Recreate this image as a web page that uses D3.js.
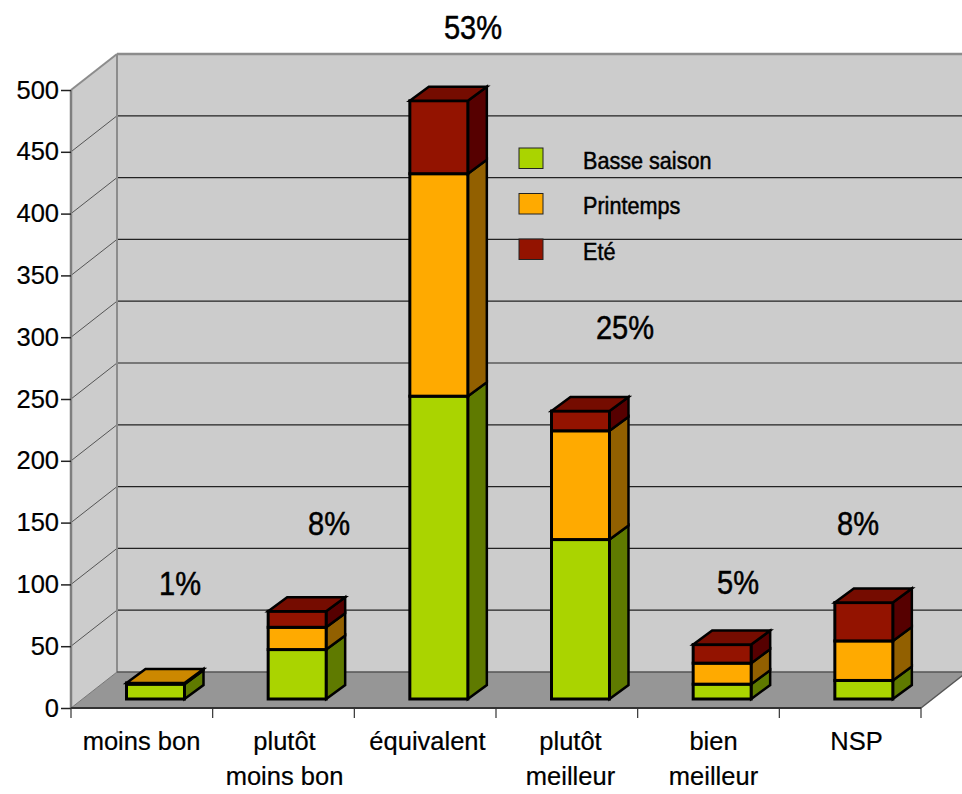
<!DOCTYPE html>
<html>
<head>
<meta charset="utf-8">
<script src="https://cdnjs.cloudflare.com/ajax/libs/d3/7.8.5/d3.min.js"></script>
<style>
  html, body { margin: 0; padding: 0; background: #fff; }
  svg { display: block; }
  text { font-family: "Liberation Sans", Arial, sans-serif; fill: #000; }
  .pct, .legend text { stroke: #000; stroke-width: 0.5px; }
  .x-label, .tick text { stroke: #000; stroke-width: 0.2px; }
</style>
</head>
<body>
<script>
// Data
const categories = ["moins bon", "plutôt|moins bon", "équivalent", "plutôt|meilleur", "bien|meilleur", "NSP"];
const basseSaison = [12, 40, 245, 129, 12, 15];
const printemps = [1, 18, 180, 88, 17, 32];
const ete = [0, 13, 59, 16, 15, 31];
const percents = ["1%", "8%", "53%", "25%", "5%", "8%"];
const seriesNames = ["Basse saison", "Printemps", "Eté"];
const yTicks = [0, 50, 100, 150, 200, 250, 300, 350, 400, 450, 500];

const colors = ["#aad400", "#ffaa00", "#931300"];
const sideColors = ["#5f7a00", "#926000", "#560000"];
const topColors = ["#7f9f00", "#cc8800", "#750c00"];

const width = 962;
const height = 794;

// Plot frame: front of the floor, and how far the back wall is pushed away
const depth = { x: 46, y: -36 };
const barDepth = { x: 19, y: -14 };
const barShift = { x: 0, y: -9 };
const barWidth = 58;
const barOffset = 55.5;

const xScale = d3.scaleBand().domain(categories).range([71, 921]);
const xLabelScale = d3.scaleBand().domain(categories).range([70, 928]);
const yScale = d3.scaleLinear().domain([0, 500]).range([708, 90]);

const rows = categories.map((c, i) => ({
    category: c,
    0: basseSaison[i],
    1: printemps[i],
    2: ete[i]
}));
const stacked = d3.stack().keys([0, 1, 2])(rows);

const svg = d3.select("body")
    .append("svg")
    .attr("width", width)
    .attr("height", height);

const x0 = xScale.range()[0];
const x1 = xScale.range()[1];
const y0 = yScale(0);
const yTop = yScale(500);

const poly = pts => pts.map(p => p.join(",")).join(" ");

// Back wall, side wall, floor
svg.append("polygon")
    .attr("points", poly([[x0 + depth.x, yTop + depth.y], [width + 2, yTop + depth.y], [width + 2, y0 + depth.y], [x0 + depth.x, y0 + depth.y]]))
    .attr("fill", "#cccccc");
svg.append("polygon")
    .attr("points", poly([[x0, yTop], [x0 + depth.x, yTop + depth.y], [x0 + depth.x, y0 + depth.y], [x0, y0]]))
    .attr("fill", "#cccccc");
svg.append("polygon")
    .attr("points", poly([[x0, y0], [x0 + depth.x, y0 + depth.y], [x1 + depth.x, y0 + depth.y], [x1, y0]]))
    .attr("fill", "#969696");

// Gridlines on the walls
const gridTicks = yTicks.filter(d => d > 0 && d < 500);
svg.selectAll(".grid-back")
    .data(gridTicks)
    .enter()
    .append("line")
    .attr("class", "grid-back")
    .attr("x1", x0 + depth.x)
    .attr("x2", width)
    .attr("y1", d => yScale(d) + depth.y)
    .attr("y2", d => yScale(d) + depth.y)
    .attr("stroke", "#222")
    .attr("stroke-width", 1.2);
svg.selectAll(".grid-side")
    .data(gridTicks)
    .enter()
    .append("line")
    .attr("class", "grid-side")
    .attr("x1", x0)
    .attr("x2", x0 + depth.x)
    .attr("y1", d => yScale(d))
    .attr("y2", d => yScale(d) + depth.y)
    .attr("stroke", "#555")
    .attr("stroke-width", 1);

// Wall edges
const edge = (a, b, color, w) => svg.append("line")
    .attr("x1", a[0]).attr("y1", a[1])
    .attr("x2", b[0]).attr("y2", b[1])
    .attr("stroke", color)
    .attr("stroke-width", w);
edge([x0 + depth.x, yTop + depth.y], [width, yTop + depth.y], "#8c8c8c", 2.5);
edge([x0, yTop], [x0 + depth.x, yTop + depth.y], "#8c8c8c", 2);
edge([x0 + depth.x, yTop + depth.y], [x0 + depth.x, y0 + depth.y], "#8c8c8c", 2);
edge([x0 + depth.x, y0 + depth.y], [x1 + depth.x, y0 + depth.y], "#555", 1.5);
edge([x0, y0], [x0 + depth.x, y0 + depth.y], "#777", 1);
edge([x1, y0], [x1 + depth.x, y0 + depth.y], "#555", 1.5);
edge([x0, yTop], [x0, y0], "#7f7f7f", 2.5);

// Stacked 3D bars
const barsGroup = svg.append("g")
    .attr("stroke", "#000")
    .attr("stroke-linejoin", "miter");

categories.forEach((c, i) => {
    const left = xScale(c) + barOffset + barShift.x;
    const right = left + barWidth;
    const bx = barDepth.x;
    const by = barDepth.y;

    const segments = stacked
        .map((s, k) => ({ k: k, low: s[i][0], high: s[i][1] }))
        .filter(d => d.high > d.low);

    segments.forEach(d => {
        const yLow = yScale(d.low) + barShift.y;
        const yHigh = yScale(d.high) + barShift.y;
        barsGroup.append("polygon")
            .attr("points", poly([[right, yLow], [right + bx, yLow + by], [right + bx, yHigh + by], [right, yHigh]]))
            .attr("fill", sideColors[d.k])
            .attr("stroke-width", 2.5);
        barsGroup.append("rect")
            .attr("x", left)
            .attr("y", yHigh)
            .attr("width", barWidth)
            .attr("height", yLow - yHigh)
            .attr("fill", colors[d.k])
            .attr("stroke-width", 3);
    });

    const last = segments[segments.length - 1];
    const yEnd = yScale(last.high) + barShift.y;
    barsGroup.append("polygon")
        .attr("points", poly([[left, yEnd], [left + bx, yEnd + by], [right + bx, yEnd + by], [right, yEnd]]))
        .attr("fill", topColors[last.k])
        .attr("stroke-width", 2.5);
});

// Y axis
const yAxis = d3.axisLeft(yScale)
    .tickValues(yTicks)
    .tickSize(10)
    .tickPadding(2);
const yAxisGroup = svg.append("g")
    .attr("transform", `translate(${x0}, 0)`)
    .call(yAxis);
yAxisGroup.select(".domain").remove();
yAxisGroup.selectAll("line").attr("stroke", "#222").attr("stroke-width", 1.5);
yAxisGroup.selectAll("text")
    .style("font-family", '"Liberation Sans", Arial, sans-serif')
    .style("font-size", "25.5px")
    .attr("fill", "#000");

// X axis line and ticks, ticks sit between the categories
const xEdges = d3.range(categories.length + 1).map(i => x0 + i * xScale.step());
svg.append("line")
    .attr("x1", x0).attr("x2", x1)
    .attr("y1", y0).attr("y2", y0)
    .attr("stroke", "#333")
    .attr("stroke-width", 2);
svg.selectAll(".x-tick")
    .data(xEdges)
    .enter()
    .append("line")
    .attr("class", "x-tick")
    .attr("x1", d => d).attr("x2", d => d)
    .attr("y1", y0).attr("y2", y0 + 10)
    .attr("stroke", "#333")
    .attr("stroke-width", 1.2);

// Category labels
const labels = svg.selectAll(".x-label")
    .data(categories)
    .enter()
    .append("text")
    .attr("class", "x-label")
    .attr("text-anchor", "middle")
    .attr("font-size", 25.5);
labels.selectAll("tspan")
    .data(c => c.split("|").map((t, j) => ({ c: c, t: t, j: j })))
    .enter()
    .append("tspan")
    .attr("x", d => xLabelScale(d.c) + xLabelScale.bandwidth() / 2)
    .attr("y", d => 750 + d.j * 35)
    .text(d => d.t);

// Percent labels, placed by hand like in the original
const percentPos = [[180, 595], [329, 535], [473, 39], [625, 339], [738, 594], [858, 535]];
svg.selectAll(".pct")
    .data(percents)
    .enter()
    .append("text")
    .attr("class", "pct")
    .attr("text-anchor", "middle")
    .attr("font-size", 33)
    .attr("transform", (d, i) => `translate(${percentPos[i][0]}, ${percentPos[i][1]}) scale(0.88, 1)`)
    .text(d => d);

// Legend
const legend = svg.selectAll(".legend")
    .data(seriesNames)
    .enter()
    .append("g")
    .attr("class", "legend")
    .attr("transform", (d, i) => `translate(519, ${148 + i * 45.5})`);
legend.append("rect")
    .attr("width", 24)
    .attr("height", 20.5)
    .attr("fill", (d, i) => colors[i])
    .attr("stroke", "#222")
    .attr("stroke-width", 1);
legend.append("text")
    .attr("font-size", 24)
    .attr("transform", "translate(64, 20.5) scale(0.9, 1)")
    .text(d => d);
</script>
</body>
</html>
